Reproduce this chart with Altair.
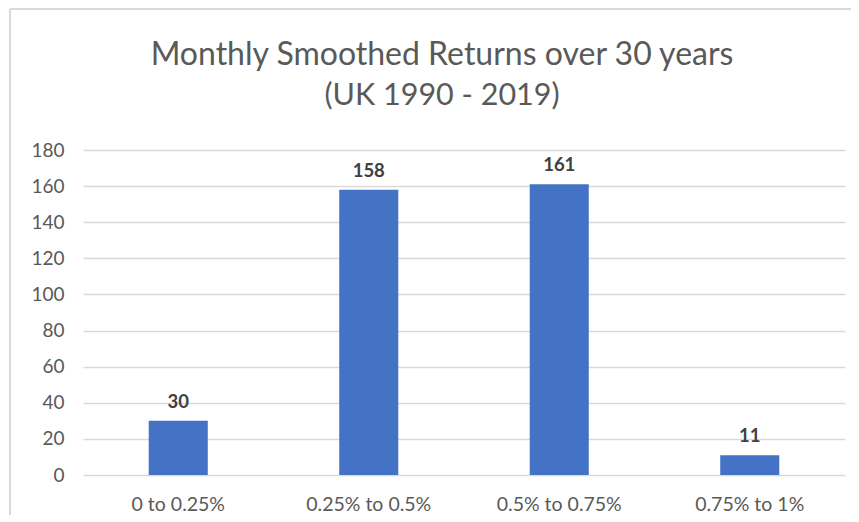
import altair as alt
import pandas as pd

categories = ["0 to 0.25%", "0.25% to 0.5%", "0.5% to 0.75%", "0.75% to 1%"]
counts = [30, 158, 161, 11]
y_ticks = [0, 20, 40, 60, 80, 100, 120, 140, 160, 180]
title_line1 = "Monthly Smoothed Returns over 30 years"
title_line2 = "(UK 1990 - 2019)"

df = pd.DataFrame({"range": categories, "count": counts})

FONT = "Lato"
GRID = "#d9d9d9"
TXT = "#595959"

x_enc = alt.X("range:N", sort=categories, title=None,
              scale=alt.Scale(paddingInner=0.69, paddingOuter=0.345),
              axis=alt.Axis(labelAngle=0, labelFontSize=19.5, labelColor=TXT, labelFont=FONT,
                            labelPadding=20, domain=False, ticks=False, grid=False))
y_enc = alt.Y("count:Q", title=None,
              scale=alt.Scale(domain=[0, 180]),
              axis=alt.Axis(values=y_ticks, labelFontSize=19, labelColor=TXT,
                            labelFont=FONT, labelPadding=19, labelOverlap=False,
                            domain=False, ticks=False,
                            grid=True, gridColor=GRID, gridWidth=1.5))

base = alt.Chart(df).encode(x=x_enc, y=y_enc)

bars = base.mark_bar(color="#4472C4")

labels = base.mark_text(baseline="alphabetic", dy=-13, fontSize=18.5, fontWeight="bold",
                        color="#404040", font=FONT).encode(text="count:Q")

t1 = alt.Chart(pd.DataFrame({"t": [title_line1]})).mark_text(
    fontSize=32, font=FONT, color=TXT, baseline="middle", align="center").encode(
    text="t:N", x=alt.value(359), y=alt.value(-95))
t2 = alt.Chart(pd.DataFrame({"t": [title_line2]})).mark_text(
    fontSize=30.5, font=FONT, color=TXT, baseline="middle", align="center").encode(
    text="t:N", x=alt.value(359), y=alt.value(-54))

left_border = alt.Chart(df).mark_rule(color=GRID, strokeWidth=1.5).encode(
    x=alt.value(-73), y=alt.value(-141), y2=alt.value(400))
top_border = alt.Chart(df).mark_rule(color=GRID, strokeWidth=1.5).encode(
    x=alt.value(-73), x2=alt.value(770), y=alt.value(-141))

chart = alt.layer(left_border, top_border, bars, labels, t1, t2).properties(
    width=762, height=325,
    background="white",
    autosize=alt.AutoSizeParams(type="none"),
    padding={"left": 75, "top": 142, "right": 6, "bottom": 40},
).configure_view(stroke="transparent", strokeWidth=0)

chart.save("out.html", embed_options={"renderer": "svg", "actions": False})
